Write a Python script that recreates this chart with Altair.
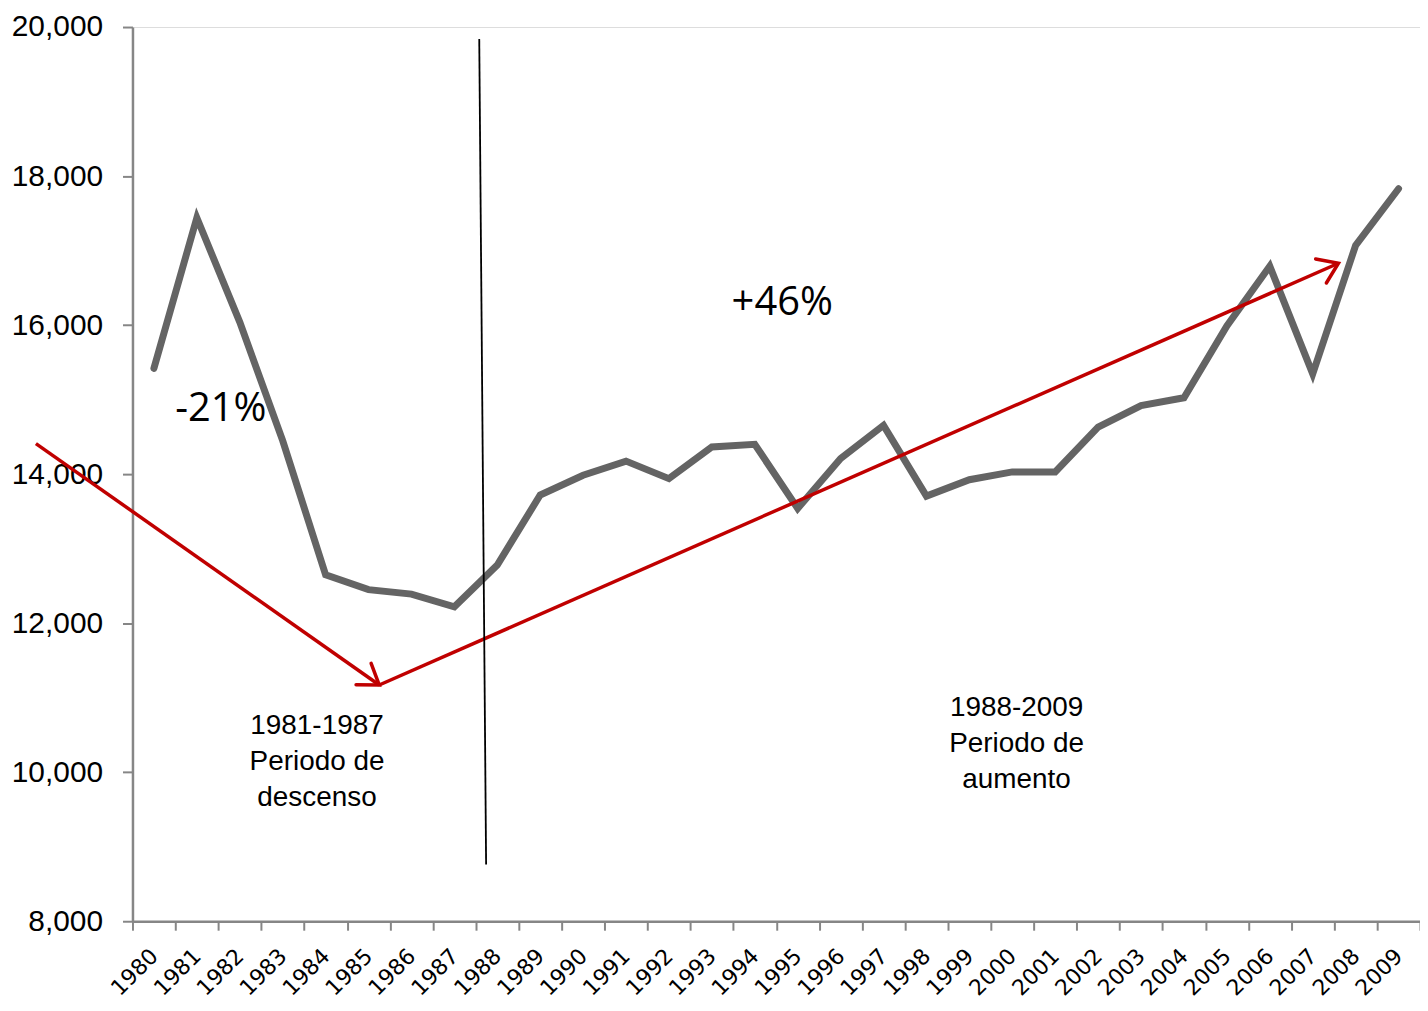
import altair as alt
import pandas as pd

# ---- data ----
years = list(range(1980, 2010))
values = [15420, 17440, 16040, 14450, 12650, 12450, 12390, 12220, 12780, 13720,
          13985, 14175, 13940, 14365, 14400, 13540, 14210, 14655, 13705, 13925,
          14030, 14030, 14630, 14920, 15025, 15990, 16790, 15345, 17070, 17830]
y_ticks = [8000, 10000, 12000, 14000, 16000, 18000, 20000]

# annotation geometry in data units (year axis, value axis)
arrow_x = [1977.25, 1985.25]
arrow_y = [14410, 11170]
arrow_x2 = [1985.25, 2007.6]
arrow_y2 = [11170, 16830]
arrow_angle = [35, 336]

sep_x, sep_y, sep_x2, sep_y2 = [1987.58], [19840], [1987.74], [8760]

pct_text = ["-21%", "+46%"]
pct_x = [1981.56, 1994.64]
pct_y = [14880, 16300]

period_text = ["1981-1987\nPeriodo de\ndescenso", "1988-2009\nPeriodo de\naumento"]
period_x = [1983.8, 2000.1]
period_y = [10620, 10860]

df = pd.DataFrame({"year": years, "value": values})
arrows = pd.DataFrame({"x": arrow_x, "value": arrow_y, "x2": arrow_x2, "value2": arrow_y2})
heads = pd.DataFrame({"x": arrow_x2, "value": arrow_y2, "angle": arrow_angle})
sep = pd.DataFrame({"x": sep_x, "value": sep_y, "x2": sep_x2, "value2": sep_y2})
pcts = pd.DataFrame({"t": pct_text, "x": pct_x, "value": pct_y})
periods = pd.DataFrame({"t": period_text, "x": period_x, "value": period_y})

RED = "#C00000"
GRAY_AX = "#868686"

Y = alt.Y("value:Q", scale=alt.Scale(domain=[8000, 20000], nice=False, zero=False),
          axis=alt.Axis(values=y_ticks, labelExpr="format(datum.value, ',')"),
          title=None)
XQ = alt.X("x:Q", scale=alt.Scale(domain=[1979.5, 2009.5], nice=False, zero=False),
           axis=None)

line = alt.Chart(df).mark_line(color="#646464", strokeWidth=7, strokeCap="round",
                               strokeJoin="miter").encode(
    x=alt.X("year:O", scale=alt.Scale(type="band", paddingInner=0, paddingOuter=0),
            axis=alt.Axis(tickBand="extent", labelAngle=-45), title=None),
    y=Y,
)

arrow_lines = alt.Chart(arrows).mark_rule(color=RED, strokeWidth=3.5).encode(
    x=XQ, x2="x2:Q", y=Y, y2="value2:Q",
)

arrow_heads = alt.Chart(heads).mark_point(
    shape="M -0.8 -0.55 L 0 0 L -0.8 0.55", filled=False, color=RED,
    strokeWidth=3.5, size=2300, opacity=1, strokeCap="round").encode(
    x=XQ, y=Y,
    angle=alt.Angle("angle:Q", scale=None),
)

separator = alt.Chart(sep).mark_rule(color="#000000", strokeWidth=1.8).encode(
    x=XQ, x2="x2:Q", y=Y, y2="value2:Q",
)

pct_marks = alt.Chart(pcts).mark_text(font="Open Sans", fontSize=40, color="#000000",
                                      align="center", baseline="middle").encode(
    x=XQ, y=Y, text="t:N",
)

period_marks = alt.Chart(periods).mark_text(font="Liberation Sans", fontSize=28,
                                            color="#000000", align="center",
                                            baseline="middle", lineBreak="\n",
                                            lineHeight=36).encode(
    x=XQ, y=Y, text="t:N",
)

chart = alt.layer(line, arrow_lines, arrow_heads, separator, pct_marks, period_marks
                  ).resolve_scale(x="independent").properties(
    width=1293, height=898,
    autosize=alt.AutoSizeParams(type="none"),
    padding={"left": 125, "top": 17, "right": 0, "bottom": 80},
).configure_view(strokeWidth=0).configure(background="white").configure_axis(
    grid=False, domainColor=GRAY_AX, domainWidth=2.5, tickColor=GRAY_AX, tickWidth=2,
    labelColor="#000000",
).configure_axisY(
    labelFont="Liberation Sans", labelFontSize=30, labelPadding=20, tickSize=10,
).configure_axisX(
    labelFont="DejaVu Sans", labelFontSize=22, labelPadding=22, tickSize=9,
    labelAlign="right", labelBaseline="middle",
)

chart.save("out.html", embed_options={"renderer": "svg", "actions": False})
